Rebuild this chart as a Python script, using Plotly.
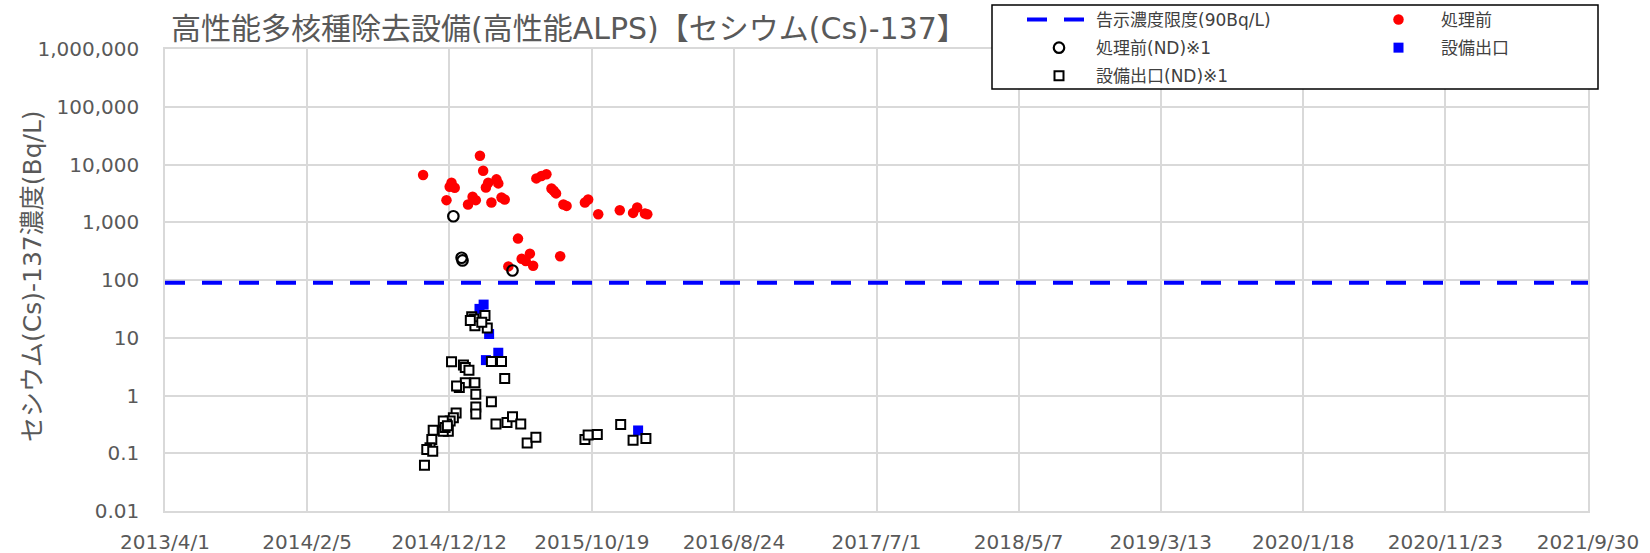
import plotly.graph_objects as go

# ---------------- data ----------------
x_tick_dates = ["2013-04-01", "2014-02-05", "2014-12-12", "2015-10-19", "2016-08-24",
                "2017-07-01", "2018-05-07", "2019-03-13", "2020-01-18", "2020-11-23", "2021-09-30"]
x_tick_labels = ["2013/4/1", "2014/2/5", "2014/12/12", "2015/10/19", "2016/8/24",
                 "2017/7/1", "2018/5/7", "2019/3/13", "2020/1/18", "2020/11/23", "2021/9/30"]
y_tick_vals = [0.01, 0.1, 1, 10, 100, 1000, 10000, 100000, 1000000]
y_tick_labels = ["0.01", "0.1", "1", "10", "100", "1,000", "10,000", "100,000", "1,000,000"]

limit_value = 90  # 告示濃度限度 (Bq/L)

pre_dates = ["2014-10-16", "2014-12-17", "2014-12-13", "2014-12-24", "2014-12-06",
             "2015-02-17", "2015-02-24", "2015-03-07", "2015-03-02", "2015-03-25",
             "2015-03-29", "2015-02-01", "2015-02-08", "2015-01-22", "2015-03-14",
             "2015-04-05", "2015-04-12", "2015-06-20", "2015-07-01", "2015-07-12",
             "2015-07-23", "2015-07-28", "2015-08-02", "2015-08-18", "2015-08-25",
             "2015-10-04", "2015-10-11", "2015-11-02", "2015-12-19", "2016-01-17",
             "2016-01-26", "2016-02-12", "2016-02-17", "2015-05-11", "2015-05-19",
             "2015-06-06", "2015-05-28", "2015-06-13", "2015-04-20", "2015-08-11"]
pre_values = [6560, 4820, 4110, 3950, 2415,
              14200, 7800, 4820, 4010, 5530,
              4710, 2755, 2415, 2030, 2200,
              2690, 2485, 5750, 6310, 6760,
              3850, 3500, 3160, 2030, 1920,
              2200, 2485, 1377, 1618, 1453,
              1800, 1416, 1377, 521, 234,
              286, 213, 177, 172, 257]

pre_nd_dates = ["2014-12-21", "2015-01-08", "2015-01-10", "2015-04-29"]
pre_nd_values = [1270, 243, 218, 146]

out_dates = ["2015-02-25", "2015-02-16", "2015-03-09", "2015-03-29", "2015-03-02", "2016-01-28"]
out_values = [37.5, 31.6, 11.6, 5.5, 4.1, 0.248]

out_nd_dates = ["2015-01-30", "2015-02-04", "2015-02-06", "2015-01-27", "2015-02-28",
                "2015-03-05", "2015-02-21",
                "2014-12-17", "2015-01-12", "2015-01-16", "2015-01-24", "2015-03-14",
                "2015-04-05", "2015-04-12", "2015-01-16", "2015-01-03", "2015-02-06",
                "2015-02-08", "2014-12-28", "2015-03-14", "2015-02-08", "2015-02-08",
                "2014-12-27", "2014-12-21", "2014-12-14", "2014-12-06", "2014-11-29",
                "2014-12-10", "2014-11-29", "2014-11-07", "2014-11-04", "2014-10-31",
                "2014-10-24", "2014-11-06", "2014-10-19", "2014-12-03", "2014-12-08",
                "2015-03-24", "2015-04-17", "2015-04-29", "2015-05-17", "2015-05-31",
                "2015-06-19", "2015-10-04", "2015-10-11", "2015-10-31", "2015-12-21",
                "2016-01-17", "2016-02-14"]
out_nd_values = [23.2, 21.1, 16.2, 19.8, 24.2,
                 14.8, 18.5,
                 3.83, 3.39, 3.04, 2.75, 3.87,
                 3.87, 1.96, 1.67, 1.37, 1.67,
                 1.05, 1.46, 0.78, 0.63, 0.48,
                 0.50, 0.41, 0.36, 0.32, 0.36,
                 0.24, 0.24, 0.25, 0.173, 0.124,
                 0.116, 0.108, 0.062, 0.28, 0.30,
                 0.32, 0.34, 0.43, 0.32, 0.151,
                 0.19, 0.173, 0.206, 0.211, 0.315,
                 0.168, 0.18]

# ---------------- figure ----------------
W, H = 1650, 553
ML, MR, MT, MB = 165, 62, 49, 42
PW, PH = W - ML - MR, H - MT - MB

TXT = "#595959"
GRID = "#D9D9D9"
LATIN_CJK = "DejaVu Sans, Noto Sans CJK JP, sans-serif"

fig = go.Figure()

x_range = [x_tick_dates[0], x_tick_dates[-1]]

fig.add_trace(go.Scatter(
    x=x_range, y=[limit_value, limit_value], mode="lines",
    name="告示濃度限度(90Bq/L)", legend="legend", legendgroup="a",
    line=dict(color="#0000FF", width=4, dash="20px,17px"),
    hoverinfo="skip"))

fig.add_trace(go.Scatter(
    x=pre_dates, y=pre_values, mode="markers", name="処理前",
    legend="legend2", legendgroup="b",
    marker=dict(symbol="circle", size=10.5, color="#FF0000", line=dict(width=0))))

fig.add_trace(go.Scatter(
    x=pre_nd_dates, y=pre_nd_values, mode="markers", name="処理前(ND)※1",
    legend="legend", legendgroup="c",
    marker=dict(symbol="circle-open", size=10.5, color="#000000", line=dict(width=2.2, color="#000000"))))

fig.add_trace(go.Scatter(
    x=out_dates, y=out_values, mode="markers", name="設備出口",
    legend="legend2", legendgroup="d",
    marker=dict(symbol="square", size=10, color="#0000FF", line=dict(width=0))))

fig.add_trace(go.Scatter(
    x=out_nd_dates, y=out_nd_values, mode="markers", name="設備出口(ND)※1",
    legend="legend", legendgroup="e",
    marker=dict(symbol="square", size=9, color="#FFFFFF", line=dict(width=2, color="#000000"))))

legend_common = dict(orientation="v", xref="container", yref="container",
                     xanchor="left", yanchor="top",
                     bgcolor="rgba(0,0,0,0)", borderwidth=0,
                     font=dict(family=LATIN_CJK, size=17, color="#404040"),
                     traceorder="grouped", tracegroupgap=3)

# legend box (white with black border) placed over the plot's top-right
box_x0, box_x1, box_top, box_bottom = 992, 1598, 5, 89

fig.update_layout(
    width=W, height=H,
    margin=dict(l=ML, r=MR, t=MT, b=MB, autoexpand=False),
    paper_bgcolor="white", plot_bgcolor="white",
    font=dict(family=LATIN_CJK, color=TXT),
    title=dict(text="高性能多核種除去設備(高性能ALPS)【セシウム(Cs)-137】",
               xref="container", yref="container",
               x=171 / W, xanchor="left", y=1 - 28.5 / H, yanchor="middle",
               font=dict(family=LATIN_CJK, size=30, color=TXT)),
    legend=dict(x=1022 / W, y=1 - 2 / H, itemwidth=64, **legend_common),
    legend2=dict(x=1356 / W, y=1 - 2 / H, itemwidth=75, **legend_common),
    showlegend=True,
    shapes=[dict(type="rect", xref="paper", yref="paper", layer="above",
                 x0=(box_x0 - ML) / PW, x1=(box_x1 - ML) / PW,
                 y0=(H - MB - box_bottom) / PH, y1=(H - MB - box_top) / PH,
                 fillcolor="white", line=dict(color="#000000", width=1.5))],
    annotations=[dict(text="セシウム(Cs)-137濃度(Bq/L)", xref="paper", yref="paper",
                      x=(32 - ML) / PW, y=(H - MB - 276) / PH,
                      xanchor="center", yanchor="middle",
                      textangle=-90, showarrow=False,
                      font=dict(family=LATIN_CJK, size=25, color=TXT))],
)

fig.update_xaxes(
    type="date", range=x_range,
    tickmode="array", tickvals=x_tick_dates, ticktext=x_tick_labels,
    showgrid=True, gridcolor=GRID, gridwidth=1.5,
    showline=True, linecolor=GRID, linewidth=1.5, mirror=True,
    ticks="", ticklabelstandoff=12,
    tickfont=dict(family="DejaVu Sans, sans-serif", size=20, color=TXT),
    zeroline=False)

fig.update_yaxes(
    type="log", range=[-2, 6],
    tickmode="array", tickvals=y_tick_vals, ticktext=y_tick_labels,
    showgrid=True, gridcolor=GRID, gridwidth=1.5,
    showline=True, linecolor=GRID, linewidth=1.5, mirror=True,
    ticks="", ticklabelstandoff=20,
    tickfont=dict(family="DejaVu Sans, sans-serif", size=20, color=TXT),
    zeroline=False)

fig.write_html("out.html",
               config={"displayModeBar": False},
               post_script="document.body.style.margin='0px';document.body.style.overflow='hidden';")
